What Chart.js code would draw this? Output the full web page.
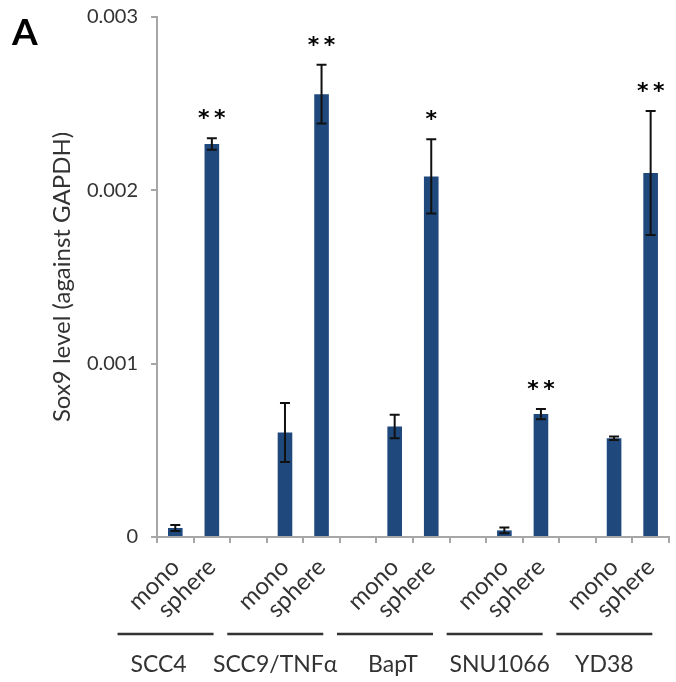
<!DOCTYPE html>
<html>
<head>
<meta charset="utf-8">
<script src="https://cdn.jsdelivr.net/npm/chart.js@4.4.1/dist/chart.umd.min.js"></script>
<style>
  html, body { margin: 0; padding: 0; background: #fff; overflow: hidden; }
  #wrap { width: 676px; height: 682px; overflow: hidden; position: relative; }
  canvas { display: block; }
</style>
</head>
<body>
<div id="wrap"><canvas id="chart" width="681" height="682"></canvas></div>
<script>
// values
const groups = ['SCC4', 'SCC9/TNFα', 'BapT', 'SNU1066', 'YD38'];
const conditions = ['mono', 'sphere'];
const monoMean = [0.000052, 0.000603, 0.000637, 0.000038, 0.00057];
const monoErr = [0.000017, 0.00017, 0.000068, 0.000017, 0.00001];
const sphereMean = [0.002267, 0.002555, 0.00208, 0.000709, 0.0021];
const sphereErr = [0.000033, 0.00017, 0.000214, 0.00003, 0.000357];
const sphereStars = ['**', '**', '*', '**', '**'];
const yTicks = [0, 0.001, 0.002, 0.003];

const FONT = 'Lato, "Open Sans", sans-serif';
const BAR = '#1F497D';
const AXIS = '#a6a6a6';
const TEXT = '#333';
// small horizontal nudges for the group names (the figure isn't perfectly even)
const nameNudge = [-7, 0, 8, 5, 0];

// build the category list: mono, sphere, (gap) per group
const labels = [], values = [], errs = [], stars = [], groupOf = [];
groups.forEach((g, i) => {
  labels.push(conditions[0]); values.push(monoMean[i]); errs.push(monoErr[i]); stars.push(''); groupOf.push(i);
  labels.push(conditions[1]); values.push(sphereMean[i]); errs.push(sphereErr[i]); stars.push(sphereStars[i]); groupOf.push(i);
  if (i < groups.length - 1) {
    labels.push(''); values.push(null); errs.push(null); stars.push(''); groupOf.push(-1);
  }
});

const extras = {
  id: 'extras',
  afterDatasetsDraw(chart) {
    const ctx = chart.ctx;
    const x = chart.scales.x, y = chart.scales.y;
    ctx.save();
    // error bars
    ctx.strokeStyle = '#111';
    ctx.lineWidth = 2;
    values.forEach((v, i) => {
      if (v == null) return;
      const cx = x.getPixelForValue(i);
      const top = y.getPixelForValue(v + errs[i]);
      const bot = y.getPixelForValue(v - errs[i]);
      ctx.beginPath();
      ctx.moveTo(cx, top); ctx.lineTo(cx, bot);
      ctx.moveTo(cx - 5, top); ctx.lineTo(cx + 5, top);
      ctx.moveTo(cx - 5, bot); ctx.lineTo(cx + 5, bot);
      ctx.stroke();
      // significance stars
      if (stars[i]) {
        ctx.fillStyle = '#000';
        ctx.font = 'bold 22px "DejaVu Sans", sans-serif';
        ctx.textAlign = 'center';
        ctx.textBaseline = 'alphabetic';
        const n = stars[i].length;
        for (let k = 0; k < n; k++) {
          const sx = cx + (k - (n - 1) / 2) * 16;
          ctx.fillText('*', sx, top - 13);
        }
      }
    });
    ctx.restore();
  },
  afterDraw(chart) {
    const ctx = chart.ctx;
    const x = chart.scales.x;
    ctx.save();
    // group underline + names
    groups.forEach((g, gi) => {
      const idx = groupOf.indexOf(gi);
      const mid = (x.getPixelForValue(idx) + x.getPixelForValue(idx + 1)) / 2 - 28;
      ctx.strokeStyle = '#333';
      ctx.lineWidth = 2.5;
      ctx.beginPath();
      ctx.moveTo(mid - 48, 634); ctx.lineTo(mid + 48, 634);
      ctx.stroke();
      ctx.fillStyle = TEXT;
      ctx.font = '23px ' + FONT;
      ctx.textAlign = 'center';
      ctx.textBaseline = 'middle';
      ctx.fillText(g, mid + nameNudge[gi], 665);
    });
    // panel letter
    ctx.fillStyle = '#000';
    ctx.font = 'bold 37px ' + FONT;
    ctx.textAlign = 'left';
    ctx.textBaseline = 'alphabetic';
    ctx.fillText('A', 12, 45);
    ctx.restore();
  }
};

new Chart(document.getElementById('chart'), {
  type: 'bar',
  data: {
    labels: labels,
    datasets: [{
      data: values,
      backgroundColor: BAR,
      borderWidth: 0,
      categoryPercentage: 1,
      barPercentage: 0.4
    }]
  },
  options: {
    responsive: false,
    animation: false,
    layout: { padding: { top: 17, left: 0, right: 0, bottom: 0 } },
    plugins: { legend: { display: false }, tooltip: { enabled: false } },
    scales: {
      x: {
        offset: true,
        grid: { offset: true, drawOnChartArea: false, drawTicks: true, tickLength: 6, color: AXIS, lineWidth: 2 },
        border: { color: AXIS, width: 2 },
        ticks: {
          autoSkip: false, minRotation: 45, maxRotation: 45,
          font: { family: FONT, size: 24 }, color: TEXT, padding: 10
        },
        afterFit(scale) { scale.height = 145; }
      },
      y: {
        min: 0, max: 0.003,
        afterBuildTicks(scale) { scale.ticks = yTicks.map(v => ({ value: v })); },
        grid: { drawOnChartArea: false, drawTicks: true, tickLength: 6, color: AXIS, lineWidth: 2 },
        border: { color: AXIS, width: 2 },
        ticks: {
          font: { family: FONT, size: 20 }, color: TEXT, padding: 13,
          callback: v => (v === 0 ? '0' : v.toFixed(3))
        },
        title: {
          display: true, text: 'Sox9 level (against GAPDH)',
          font: { family: FONT, size: 24 }, color: TEXT,
          padding: { top: 48, bottom: 0 }
        },
        afterFit(scale) {
          scale.width = 157;
          scale.paddingTop = 0;
          scale.paddingBottom = 0;
        }
      }
    }
  },
  plugins: [extras]
});
</script>
</body>
</html>
